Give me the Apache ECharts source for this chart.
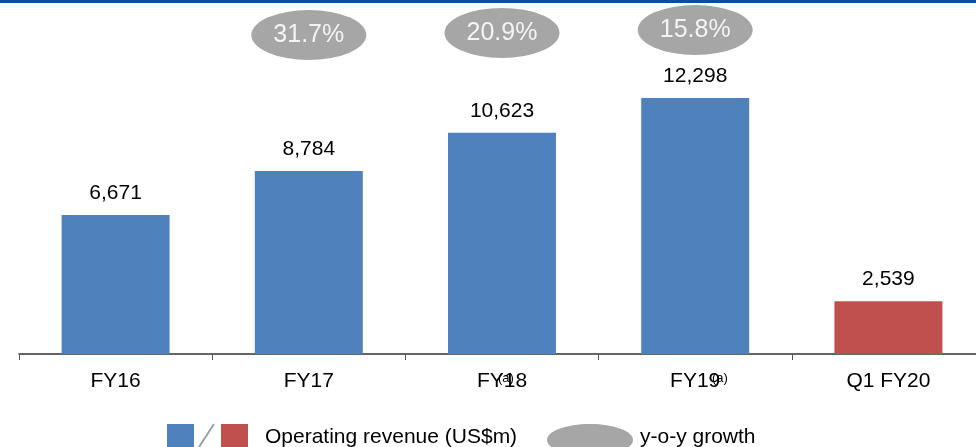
<!DOCTYPE html>
<html>
<head>
<meta charset="utf-8">
<script src="https://cdn.jsdelivr.net/npm/echarts@6/dist/echarts.min.js"></script>
<style>
  html, body { margin: 0; padding: 0; background: #fff; }
  #chart { width: 976px; height: 447px; }
</style>
</head>
<body>
<div id="chart"></div>
<script>
// data
var categories = ['FY16', 'FY17', 'FY18', 'FY19', 'Q1 FY20'];
var revenue = [6671, 8784, 10623, 12298, 2539];
var growth = [null, 31.7, 20.9, 15.8, null];
// height on the revenue axis where each growth bubble sits
var bubbleLevel = [null, 15320, 15420, 15560, null];

var blue = '#4f81bd';
var red = '#c0504d';
var grey = '#a6a6a6';
var font = '"Liberation Sans", Arial, sans-serif';

var chart = echarts.init(document.getElementById('chart'));

var barData = revenue.map(function (v, i) {
  return { value: v, itemStyle: { color: i === revenue.length - 1 ? red : blue } };
});

var bubbleData = [];
growth.forEach(function (g, i) {
  if (g == null) return;
  bubbleData.push({ value: [i, bubbleLevel[i]], growth: g });
});

var option = {
  animation: false,
  grid: { left: 19, right: -9, top: 0, bottom: 93, outerBoundsMode: 'none' },
  xAxis: {
    type: 'category',
    data: categories,
    axisLine: { lineStyle: { color: '#333', width: 1.5 } },
    axisTick: { show: true, length: 6, lineStyle: { color: '#555', width: 1 } },
    axisLabel: { color: '#000', fontSize: 21, fontFamily: font, margin: 17 }
  },
  yAxis: {
    type: 'value',
    min: 0,
    max: 17000,
    show: false,
    splitLine: { show: false }
  },
  series: [
    {
      name: 'Operating revenue (US$m)',
      type: 'bar',
      data: barData,
      barWidth: 108,
      label: {
        show: true,
        position: 'top',
        distance: 11,
        color: '#000',
        fontSize: 21,
        fontFamily: font,
        formatter: function (p) { return p.value.toLocaleString('en-US'); }
      }
    },
    {
      name: 'y-o-y growth',
      type: 'scatter',
      data: bubbleData,
      symbol: 'circle',
      symbolSize: [115, 50],
      itemStyle: { color: grey, opacity: 1 },
      label: {
        show: true,
        position: 'inside',
        color: '#f4f4f4',
        fontSize: 25,
        fontFamily: '"Liberation Sans Narrow", "Arial Narrow", ' + font,
        formatter: function (p) { return p.data.growth.toFixed(1) + '%'; }
      },
      z: 5
    }
  ],
  graphic: [
    // top rule
    { type: 'rect', shape: { x: 0, y: 0, width: 976, height: 3 }, style: { fill: '#0b4f9c' } },
    // footnote marks
    { type: 'text', x: 498, y: 372, style: { text: '(a)', fontSize: 13, fontFamily: font, fill: '#000' } },
    { type: 'text', x: 712, y: 372, style: { text: '(a)', fontSize: 13, fontFamily: font, fill: '#000' } },
    // legend
    { type: 'rect', shape: { x: 167, y: 424, width: 27, height: 24 }, style: { fill: blue } },
    { type: 'line', shape: { x1: 199, y1: 447, x2: 214, y2: 424 }, style: { stroke: '#8fa6a6', lineWidth: 2 } },
    { type: 'rect', shape: { x: 221, y: 424, width: 27, height: 24 }, style: { fill: red } },
    { type: 'text', x: 265, y: 437, style: { text: 'Operating revenue (US$m)', fontSize: 21, fontFamily: font, fill: '#000', verticalAlign: 'middle' } },
    { type: 'ellipse', shape: { cx: 590, cy: 440, rx: 43, ry: 16 }, style: { fill: grey } },
    { type: 'text', x: 640, y: 437, style: { text: 'y-o-y growth', fontSize: 21, fontFamily: font, fill: '#000', verticalAlign: 'middle' } }
  ]
};

chart.setOption(option);
</script>
</body>
</html>
